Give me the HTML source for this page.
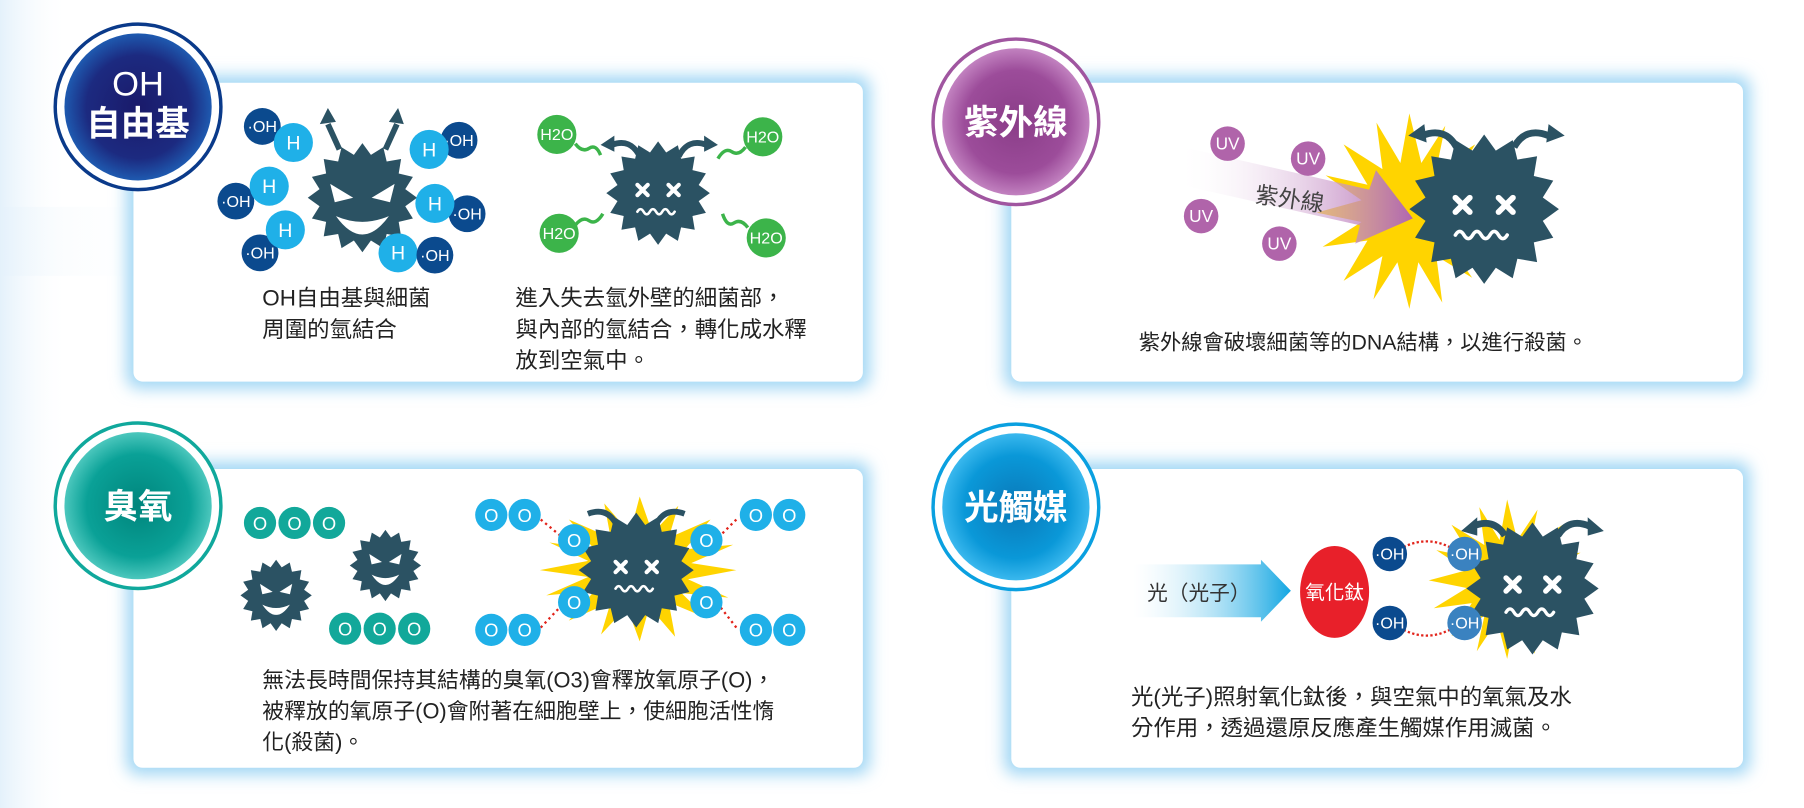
<!DOCTYPE html>
<html><head><meta charset="utf-8"><style>
html,body{margin:0;padding:0;background:#fff;}
svg{display:block;}
text{font-family:"Liberation Sans","Noto Sans CJK TC",sans-serif;}
</style></head><body>
<svg width="1804" height="808" viewBox="0 0 1568 703" preserveAspectRatio="none" xmlns="http://www.w3.org/2000/svg">
<defs>
<linearGradient id="bgl" x1="0" x2="1"><stop offset="0" stop-color="#e4f1fb"/><stop offset="1" stop-color="#fff" stop-opacity="0"/></linearGradient>
<filter id="glow" x="-10%" y="-10%" width="120%" height="120%"><feGaussianBlur stdDeviation="7"/></filter>
<radialGradient id="gOH" cx="0.5" cy="0.5" r="0.5"><stop offset="0" stop-color="#1a1a6a"/><stop offset="0.7" stop-color="#1c2a80"/><stop offset="1" stop-color="#1e5ab0"/></radialGradient>
<radialGradient id="gUV" cx="0.5" cy="0.5" r="0.5"><stop offset="0" stop-color="#8a3d88"/><stop offset="0.7" stop-color="#9c4c9a"/><stop offset="1" stop-color="#c282c0"/></radialGradient>
<radialGradient id="gO3" cx="0.5" cy="0.5" r="0.5"><stop offset="0" stop-color="#00857c"/><stop offset="0.7" stop-color="#0aa197"/><stop offset="1" stop-color="#4cc7bd"/></radialGradient>
<radialGradient id="gPC" cx="0.5" cy="0.5" r="0.5"><stop offset="0" stop-color="#0a78b8"/><stop offset="0.7" stop-color="#0a98d8"/><stop offset="1" stop-color="#3ab8ee"/></radialGradient>
<linearGradient id="uvArrow" x1="0" x2="1"><stop offset="0" stop-color="#fff" stop-opacity="0"/><stop offset="1" stop-color="#b066b0"/></linearGradient>
<linearGradient id="pcArrow" x1="0" x2="1"><stop offset="0" stop-color="#fff" stop-opacity="0.2"/><stop offset="1" stop-color="#12a6e2"/></linearGradient>
<polygon id="star" points="50,0 39.2,7.8 46.2,19.1 33.2,22.2 35.4,35.4 22.2,33.2 19.1,46.2 7.8,39.2 0,50 -7.8,39.2 -19.1,46.2 -22.2,33.2 -35.4,35.4 -33.2,22.2 -46.2,19.1 -39.2,7.8 -50,0 -39.2,-7.8 -46.2,-19.1 -33.2,-22.2 -35.4,-35.4 -22.2,-33.2 -19.1,-46.2 -7.8,-39.2 0,-50 7.8,-39.2 19.1,-46.2 22.2,-33.2 35.4,-35.4 33.2,-22.2 46.2,-19.1 39.2,-7.8"/>
<polygon id="burst" points="60,0 30,8 55,24 26,20 42,42 18,28 22,58 6,32 0,62 -8,32 -24,56 -18,28 -44,44 -28,18 -58,22 -32,6 -62,0 -32,-8 -56,-24 -28,-18 -44,-44 -18,-28 -22,-58 -6,-32 0,-64 8,-32 24,-56 18,-28 44,-44 28,-18 58,-22 32,-6" fill="#ffd400"/>
<g id="deadface" fill="none" stroke="#fff" stroke-width="4" stroke-linecap="round">
<path d="M-20,-8 l10,10 M-10,-8 l-10,10 M10,-8 l10,10 M20,-8 l-10,10"/>
<path d="M-20,18 q3,-5 6,0 t6,0 t6,0 t6,0 t6,0 t6,0" stroke-width="2.5"/>
</g>
</defs>

<rect width="1568" height="703" fill="#fff"/>
<rect x="0" y="0" width="60" height="703" fill="url(#bgl)"/>
<rect x="0" y="180" width="150" height="60" fill="url(#bgl)" opacity="0.4"/>

<g fill="#9fd6f4" filter="url(#glow)">
<rect x="110" y="66" width="646" height="272" rx="10"/>
<rect x="873" y="66" width="648" height="272" rx="10"/>
<rect x="110" y="402" width="646" height="272" rx="10"/>
<rect x="873" y="402" width="648" height="272" rx="10"/>
</g>
<g fill="#fff">
<rect x="116" y="72" width="634" height="260" rx="8"/>
<rect x="879" y="72" width="636" height="260" rx="8"/>
<rect x="116" y="408" width="634" height="260" rx="8"/>
<rect x="879" y="408" width="636" height="260" rx="8"/>
</g>

<circle cx="120" cy="93" r="72" fill="#fff" stroke="#0a3a8a" stroke-width="3"/>
<circle cx="120" cy="93" r="64" fill="url(#gOH)"/>
<text x="120" y="83" fill="#fff" font-size="30" text-anchor="middle">OH</text>
<text x="120" y="118" fill="#fff" font-size="30" font-weight="bold" text-anchor="middle">自由基</text>

<circle cx="883" cy="106" r="72" fill="#fff" stroke="#a056a0" stroke-width="3"/>
<circle cx="883" cy="106" r="64" fill="url(#gUV)"/>
<text x="883" y="117" fill="#fff" font-size="30" font-weight="bold" text-anchor="middle">紫外線</text>

<circle cx="120" cy="440" r="72" fill="#fff" stroke="#10a89c" stroke-width="3"/>
<circle cx="120" cy="440" r="64" fill="url(#gO3)"/>
<text x="120" y="451" fill="#fff" font-size="30" font-weight="bold" text-anchor="middle">臭氧</text>

<circle cx="883" cy="441" r="72" fill="#fff" stroke="#0aa0e0" stroke-width="3"/>
<circle cx="883" cy="441" r="64" fill="url(#gPC)"/>
<text x="883" y="452" fill="#fff" font-size="30" font-weight="bold" text-anchor="middle">光觸媒</text>

<g fill="#2b5263">
<use href="#star" transform="translate(315,172) scale(0.95)"/>
</g>
<g stroke="#2b5263" stroke-width="5" fill="none"><path d="M295,130 L285,108 M335,130 L345,108"/></g>
<g fill="#2b5263"><path d="M278,108 l7,-14 l7,12z M338,106 l8,-12 l5,14z"/></g>
<g fill="#fff"><path d="M287,160 l20,12 l-16,4z M343,160 l-20,12 l16,4z"/>
<path d="M292,188 q23,32 46,0 q-23,10 -46,0z"/></g>

<g font-size="14" fill="#fff" text-anchor="middle">
<circle cx="228" cy="110" r="16" fill="#0b4a8e"/><text x="228" y="115">·OH</text>
<circle cx="255" cy="124" r="17" fill="#1fb0e8"/><text x="255" y="130" font-size="17">H</text>
<circle cx="399" cy="122" r="16" fill="#0b4a8e"/><text x="399" y="127">·OH</text>
<circle cx="373" cy="130" r="17" fill="#1fb0e8"/><text x="373" y="136" font-size="17">H</text>
<circle cx="205" cy="175" r="16" fill="#0b4a8e"/><text x="205" y="180">·OH</text>
<circle cx="234" cy="162" r="17" fill="#1fb0e8"/><text x="234" y="168" font-size="17">H</text>
<circle cx="406" cy="186" r="16" fill="#0b4a8e"/><text x="406" y="191">·OH</text>
<circle cx="378" cy="177" r="17" fill="#1fb0e8"/><text x="378" y="183" font-size="17">H</text>
<circle cx="226" cy="220" r="16" fill="#0b4a8e"/><text x="226" y="225">·OH</text>
<circle cx="248" cy="200" r="17" fill="#1fb0e8"/><text x="248" y="206" font-size="17">H</text>
<circle cx="346" cy="220" r="17" fill="#1fb0e8"/><text x="346" y="226" font-size="17">H</text>
<circle cx="378" cy="222" r="16" fill="#0b4a8e"/><text x="378" y="227">·OH</text>
</g>

<use href="#star" fill="#2b5263" transform="translate(572,168) scale(0.9)"/>
<use href="#deadface" transform="translate(572,168) scale(0.9)"/>
<g stroke="#2b5263" stroke-width="5" fill="none"><path d="M556,136 q-8,-16 -24,-10 M590,136 q8,-16 24,-10"/></g>
<g fill="#2b5263"><path d="M522,126 l12,-8 l0,14z M624,126 l-12,-8 l0,14z"/></g>
<g stroke="#3cb44a" stroke-width="3" fill="none">
<path d="M500,125 q6,8 12,4 q6,-4 10,6"/><path d="M648,128 q-6,8 -12,4 q-6,-4 -12,6"/>
<path d="M500,196 q6,-8 12,-4 q6,4 12,-6"/><path d="M650,198 q-6,-8 -12,-4 q-6,4 -10,-8"/>
</g>
<g font-size="14" fill="#fff" text-anchor="middle">
<circle cx="484" cy="117" r="17" fill="#3cb44a"/><text x="484" y="122">H2O</text>
<circle cx="663" cy="119" r="17" fill="#3cb44a"/><text x="663" y="124">H2O</text>
<circle cx="486" cy="203" r="17" fill="#3cb44a"/><text x="486" y="208">H2O</text>
<circle cx="666" cy="207" r="17" fill="#3cb44a"/><text x="666" y="212">H2O</text>
</g>

<g font-size="19.5" fill="#222">
<text x="228" y="266">OH自由基與細菌</text>
<text x="228" y="293">周圍的氫結合</text>
<text x="448" y="266">進入失去氫外壁的細菌部，</text>
<text x="448" y="293">與內部的氫結合，轉化成水釋</text>
<text x="448" y="320">放到空氣中。</text>
</g>

<use href="#burst" transform="translate(1225,185) scale(1.3,1.35)"/>
<polygon points="1028,128 1190,165 1196,148 1228,190 1178,212 1182,196 1022,160" fill="url(#uvArrow)"/>
<text x="1120" y="180" font-size="20" fill="#444" text-anchor="middle" transform="rotate(8 1120 180)">紫外線</text>
<use href="#star" fill="#2b5263" transform="translate(1290,182) scale(1.3)"/>
<use href="#deadface" transform="translate(1290,182) scale(1.25)"/>
<g stroke="#2b5263" stroke-width="6" fill="none"><path d="M1266,128 q-10,-18 -30,-10 M1316,128 q10,-18 30,-10"/></g>
<g fill="#2b5263"><path d="M1224,118 l14,-10 l2,16z M1360,118 l-14,-10 l-2,16z"/></g>
<g font-size="15" fill="#fff" text-anchor="middle">
<circle cx="1067" cy="125" r="15" fill="#b064aa"/><text x="1067" y="130">UV</text>
<circle cx="1137" cy="138" r="15" fill="#b064aa"/><text x="1137" y="143">UV</text>
<circle cx="1044" cy="188" r="15" fill="#b064aa"/><text x="1044" y="193">UV</text>
<circle cx="1112" cy="212" r="15" fill="#b064aa"/><text x="1112" y="217">UV</text>
</g>
<text x="1185" y="304" font-size="18.5" fill="#222" text-anchor="middle">紫外線會破壞細菌等的DNA結構，以進行殺菌。</text>

<g fill="#2b5263">
<use href="#star" transform="translate(240,518) scale(0.62)"/>
<use href="#star" transform="translate(335,492) scale(0.62)"/>
</g>
<g fill="#fff"><path d="M226,508 l11,7 l-9,2z M254,508 l-11,7 l9,2z M228,526 q12,18 24,0 q-12,6 -24,0z"/>
<path d="M321,482 l11,7 l-9,2z M349,482 l-11,7 l9,2z M323,500 q12,18 24,0 q-12,6 -24,0z"/></g>
<use href="#burst" transform="translate(556,496) scale(1.4,1.0)"/>
<use href="#star" fill="#2b5263" transform="translate(553,496) scale(1.0)"/>
<use href="#deadface" transform="translate(553,496) scale(0.9)"/>
<g stroke="#2b5263" stroke-width="5" fill="none"><path d="M535,455 q-8,-14 -24,-8 M571,455 q8,-14 24,-8"/></g>
<g stroke="#e2231a" stroke-width="2" stroke-dasharray="2,3" fill="none">
<path d="M470,452 L487,466 M640,452 L626,466 M470,546 L487,528 M640,546 L626,528"/>
</g>
<g font-size="16" fill="#fff" text-anchor="middle">
<circle cx="226" cy="455" r="14" fill="#12a89a"/><text x="226" y="461">O</text>
<circle cx="256" cy="455" r="14" fill="#12a89a"/><text x="256" y="461">O</text>
<circle cx="286" cy="455" r="14" fill="#12a89a"/><text x="286" y="461">O</text>
<circle cx="300" cy="547" r="14" fill="#12a89a"/><text x="300" y="553">O</text>
<circle cx="330" cy="547" r="14" fill="#12a89a"/><text x="330" y="553">O</text>
<circle cx="360" cy="547" r="14" fill="#12a89a"/><text x="360" y="553">O</text>
<circle cx="427" cy="448" r="14" fill="#1fb0e8"/><text x="427" y="454">O</text>
<circle cx="456" cy="448" r="14" fill="#1fb0e8"/><text x="456" y="454">O</text>
<circle cx="657" cy="448" r="14" fill="#1fb0e8"/><text x="657" y="454">O</text>
<circle cx="686" cy="448" r="14" fill="#1fb0e8"/><text x="686" y="454">O</text>
<circle cx="427" cy="548" r="14" fill="#1fb0e8"/><text x="427" y="554">O</text>
<circle cx="456" cy="548" r="14" fill="#1fb0e8"/><text x="456" y="554">O</text>
<circle cx="657" cy="548" r="14" fill="#1fb0e8"/><text x="657" y="554">O</text>
<circle cx="686" cy="548" r="14" fill="#1fb0e8"/><text x="686" y="554">O</text>
<circle cx="499" cy="470" r="14" fill="#1fb0e8"/><text x="499" y="476">O</text>
<circle cx="614" cy="470" r="14" fill="#1fb0e8"/><text x="614" y="476">O</text>
<circle cx="499" cy="524" r="14" fill="#1fb0e8"/><text x="499" y="530">O</text>
<circle cx="614" cy="524" r="14" fill="#1fb0e8"/><text x="614" y="530">O</text>
</g>
<g font-size="19" fill="#222">
<text x="228" y="598">無法長時間保持其結構的臭氧(O3)會釋放氧原子(O)，</text>
<text x="228" y="625">被釋放的氧原子(O)會附著在細胞壁上，使細胞活性惰</text>
<text x="228" y="652">化(殺菌)。</text>
</g>

<polygon points="985,491 1096,491 1096,487 1122,514 1096,541 1096,537 985,537" fill="url(#pcArrow)"/>
<text x="1042" y="522" font-size="18" fill="#333" text-anchor="middle">光（光子）</text>
<ellipse cx="1160" cy="515" rx="30" ry="40" fill="#e8202a"/>
<text x="1160" y="521" font-size="17" fill="#fff" text-anchor="middle">氧化鈦</text>
<use href="#burst" transform="translate(1310,505) scale(1.1,1.1)"/>
<use href="#star" fill="#2b5263" transform="translate(1332,512) scale(1.15)"/>
<use href="#deadface" transform="translate(1332,512) scale(1.15)"/>
<g stroke="#2b5263" stroke-width="6" fill="none"><path d="M1308,466 q-10,-16 -28,-8 M1354,466 q10,-16 28,-8"/></g>
<g fill="#2b5263"><path d="M1270,462 l14,-12 l0,16z M1394,462 l-14,-12 l0,16z"/></g>
<g stroke="#e2231a" stroke-width="2" stroke-dasharray="2,2" fill="none">
<path d="M1220,476 q20,-10 40,0 M1220,548 q20,10 40,0"/>
</g>
<g font-size="14" fill="#fff" text-anchor="middle">
<circle cx="1208" cy="482" r="15" fill="#0b4a8e"/><text x="1208" y="487">·OH</text>
<circle cx="1208" cy="542" r="15" fill="#0b4a8e"/><text x="1208" y="547">·OH</text>
<circle cx="1273" cy="482" r="15" fill="#3a82c0"/><text x="1273" y="487">·OH</text>
<circle cx="1273" cy="542" r="15" fill="#3a82c0"/><text x="1273" y="547">·OH</text>
</g>
<g font-size="19.5" fill="#222">
<text x="983" y="613">光(光子)照射氧化鈦後，與空氣中的氧氣及水</text>
<text x="983" y="640">分作用，透過還原反應產生觸媒作用滅菌。</text>
</g>
</svg>
</body></html>
